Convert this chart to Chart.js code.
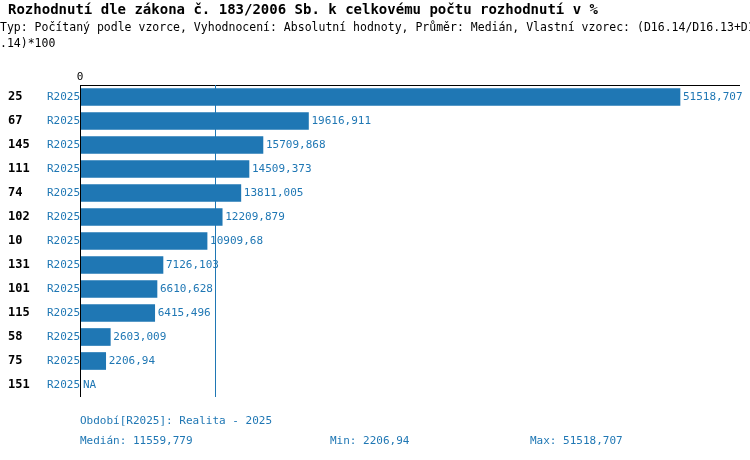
<!DOCTYPE html>
<html>
<head>
<meta charset="utf-8">
<script src="https://cdn.jsdelivr.net/npm/chart.js@4"></script>
<style>body{margin:0;background:#fff}</style>
</head>
<body>
<canvas id="chart" width="750" height="460"></canvas>
<script>
const ids = ['25', '67', '145', '111', '74', '102', '10', '131', '101', '115', '58', '75', '151'];
const values = [51518.707, 19616.911, 15709.868, 14509.373, 13811.005, 12209.879, 10909.68, 7126.103, 6610.628, 6415.496, 2603.009, 2206.94, null];
const period = 'R2025';
const median = 11559.779;
const minVal = 2206.94;
const maxVal = 51518.707;

const blue = '#1f77b4';
const mono = '"DejaVu Sans Mono", monospace';

// Format number with decimal comma
function fmt(v) {
    return String(v).replace('.', ',');
}

const textPlugin = {
    id: 'texts',
    afterDraw(chart) {
        const ctx = chart.ctx;
        const x = chart.scales.x;
        const y = chart.scales.y;
        const area = chart.chartArea;
        ctx.save();

        // Title and subtitle
        ctx.fillStyle = '#000';
        ctx.textBaseline = 'middle';
        ctx.font = 'bold 14px ' + mono;
        ctx.fillText('Rozhodnutí dle zákona č. 183/2006 Sb. k celkovému počtu rozhodnutí v %', 8, 10);
        ctx.font = '11.5px ' + mono;
        ctx.fillText('Typ: Počítaný podle vzorce, Vyhodnocení: Absolutní hodnoty, Průměr: Medián, Vlastní vzorec: (D16.14/D16.13+D16', 0, 28);
        ctx.fillText('.14)*100', 0, 44);

        // Axis lines
        ctx.strokeStyle = '#000';
        ctx.lineWidth = 1;
        ctx.beginPath();
        ctx.moveTo(area.left, area.top + 0.5);
        ctx.lineTo(area.right, area.top + 0.5);
        ctx.moveTo(area.left + 0.5, area.top);
        ctx.lineTo(area.left + 0.5, area.bottom);
        ctx.stroke();
        ctx.textAlign = 'center';
        ctx.font = '11px ' + mono;
        ctx.fillText('0', area.left, area.top - 8);

        // Median line
        const mx = Math.round(x.getPixelForValue(median)) + 0.5;
        ctx.strokeStyle = blue;
        ctx.beginPath();
        ctx.moveTo(mx, area.top);
        ctx.lineTo(mx, area.bottom);
        ctx.stroke();

        // Row labels and value labels
        ids.forEach((id, i) => {
            const py = y.getPixelForValue(i);
            ctx.textAlign = 'left';
            ctx.fillStyle = '#000';
            ctx.font = 'bold 12px ' + mono;
            ctx.fillText(id, 8, py);
            ctx.fillStyle = blue;
            ctx.font = '11px ' + mono;
            ctx.fillText(period, 47, py);
            const v = values[i];
            const vx = v === null ? area.left : x.getPixelForValue(v);
            ctx.fillText(v === null ? 'NA' : fmt(v), vx + 3, py);
        });

        // Footer
        ctx.fillStyle = blue;
        ctx.font = '11px ' + mono;
        ctx.fillText('Období[' + period + ']: Realita - 2025', 80, 421);
        ctx.fillText('Medián: ' + fmt(median), 80, 441);
        ctx.fillText('Min: ' + fmt(minVal), 330, 441);
        ctx.fillText('Max: ' + fmt(maxVal), 530, 441);
        ctx.restore();
    }
};

new Chart(document.getElementById('chart'), {
    type: 'bar',
    data: {
        labels: ids,
        datasets: [{
            data: values,
            backgroundColor: blue,
            barThickness: 17
        }]
    },
    options: {
        indexAxis: 'y',
        responsive: false,
        animation: false,
        layout: { padding: { left: 80, right: 10, top: 85, bottom: 63 } },
        plugins: { legend: { display: false }, tooltip: { enabled: false } },
        scales: {
            x: { display: false, min: 0, max: maxVal * 660 / 600 },
            y: { display: false }
        }
    },
    plugins: [textPlugin]
});
</script>
</body>
</html>
